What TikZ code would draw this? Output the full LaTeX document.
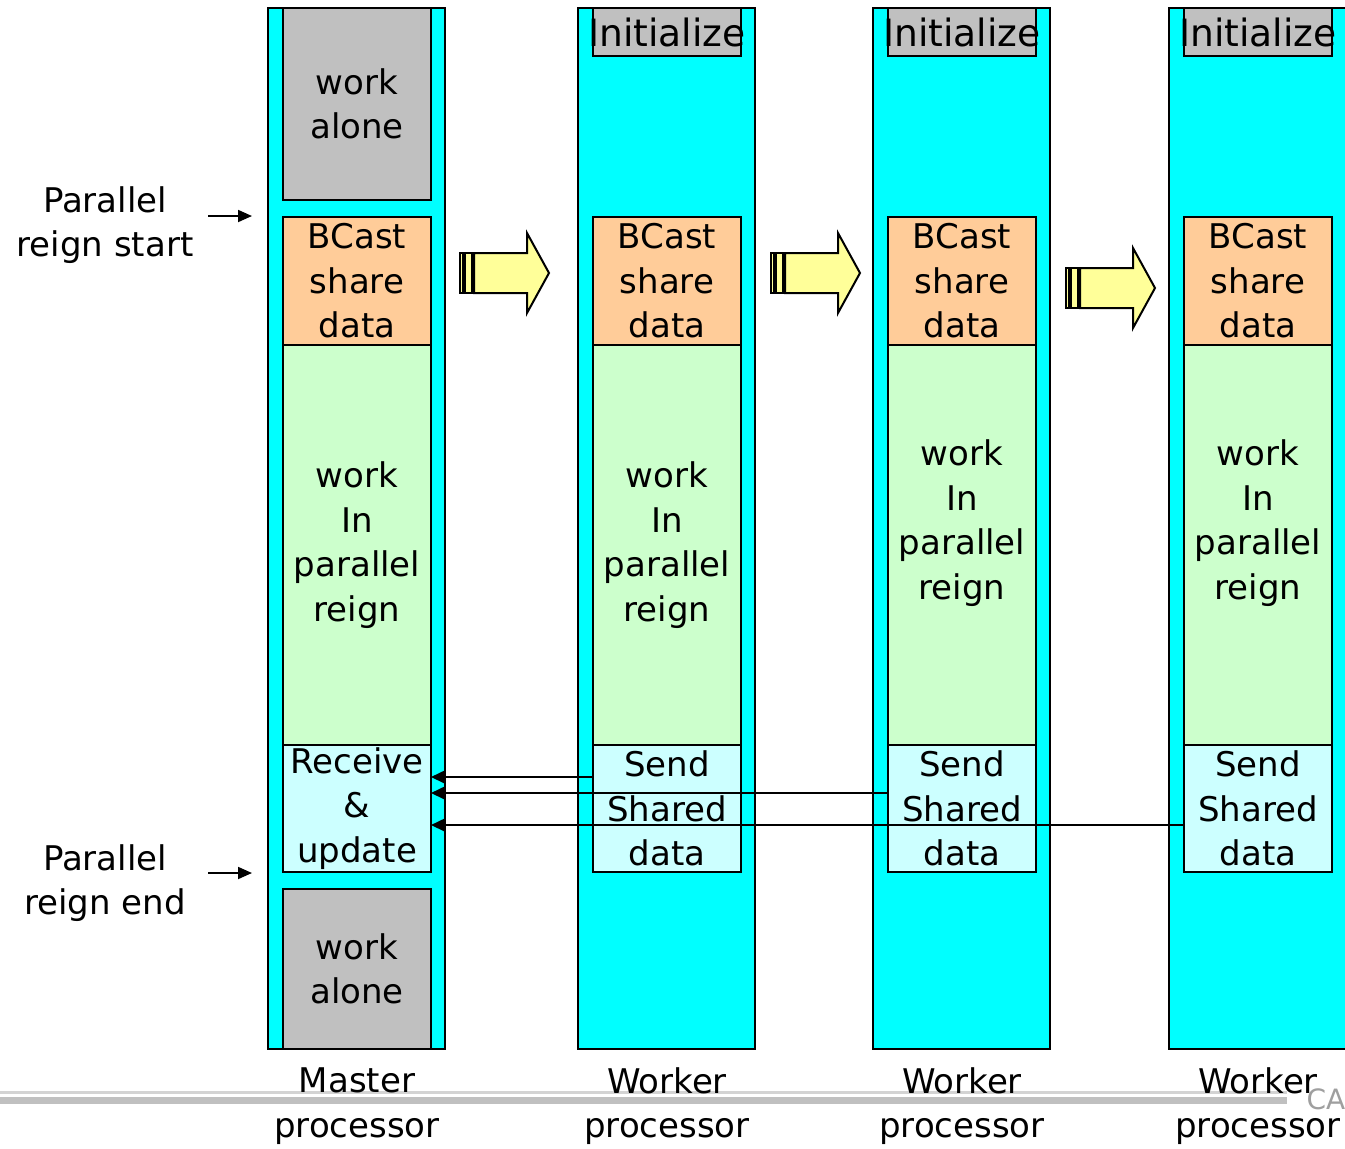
\documentclass[tikz,border=0pt]{standalone}
\usepackage{fontspec}
\setmainfont{DejaVu Sans}
\usetikzlibrary{arrows.meta,calc}

\definecolor{colcyan}{RGB}{0,255,255}
\definecolor{boxgray}{RGB}{192,192,192}
\definecolor{peach}{RGB}{255,204,153}
\definecolor{mint}{RGB}{204,255,204}
\definecolor{palecyan}{RGB}{204,255,255}
\definecolor{paleyellow}{RGB}{255,255,153}
\definecolor{rulegray}{RGB}{200,200,200}

\tikzset{
  txt/.style={font=\fontsize{17}{22.25}\selectfont, align=center, inner sep=0pt},
  column/.style={draw, line width=1pt, fill=colcyan, inner sep=0pt, outer sep=0pt,
    anchor=north west, minimum width=88.5pt},
  stage/.style={draw, line width=1pt, inner sep=0pt, outer sep=0pt, anchor=north west,
    minimum width=74pt, txt},
  inittxt/.style={font=\fontsize{18.8}{22.25}\selectfont, inner sep=0pt},
  msg/.style={line width=0.9pt, -{Triangle[length=6.5pt,width=6pt]}},
  marker/.style={line width=0.9pt, -{Triangle[length=7pt,width=6pt]}},
  bigarrow/.pic={
    \draw[fill=paleyellow, line width=0.8pt] (0,-20) rectangle (3,20);
    \draw[fill=paleyellow, line width=0.8pt] (5,-20) rectangle (12,20);
    \draw[fill=paleyellow, line width=1pt, line join=miter]
      (14,-20) -- (67,-20) -- (67,-40) -- (89,0) -- (67,40) -- (67,20) -- (14,20) -- cycle;
  }
}

\begin{document}
\begin{tikzpicture}[x=0.5pt, y=-0.5pt]
\useasboundingbox (0,0) rectangle (1345,1148);

% separator rules at the foot
\fill[rulegray!80] (0,1090.5) rectangle (1287,1093.5);
\fill[boxgray] (0,1097) rectangle (1287,1104);
\node[font=\fontsize{14}{14}\selectfont, text=gray!75, inner sep=0pt] (ca) at (1326,1099) {CA};

% processor columns
\node[column, minimum height=520.5pt] (c1) at (268,8) {};
\node[column, minimum height=520.5pt] (c2) at (578,8) {};
\node[column, minimum height=520.5pt] (c3) at (873,8) {};
\node[column, minimum height=520.5pt] (c4) at (1169,8) {};

% master processor stages
\node[stage, fill=boxgray, minimum height=96pt] (w1) at (283,8) {work\\alone};
\node[stage, fill=peach, minimum height=64pt] (b1) at (283,217) {BCast\\share\\data};
\node[stage, fill=mint, minimum height=200pt] (g1) at (283,345) {work\\In\\parallel\\reign};
\node[stage, fill=palecyan, minimum height=63.5pt] (r1) at (283,745) {Receive\\\&\\update};
\node[stage, fill=boxgray, minimum height=80pt] (w1b) at (283,889) {work\\alone};

% worker processor stages (the Initialize label runs past its box)
\node[stage, fill=boxgray, minimum height=24pt] (i2) at (593,8) {};
\node[inittxt] (i2t) at (i2.center) {Initialize};
\node[stage, fill=peach, minimum height=64pt] (b2) at (593,217) {BCast\\share\\data};
\node[stage, fill=mint, minimum height=200pt] (g2) at (593,345) {work\\In\\parallel\\reign};
\node[stage, fill=palecyan, minimum height=63.5pt] (s2) at (593,745) {Send\\Shared\\data};

\node[stage, fill=boxgray, minimum height=24pt] (i3) at (888,8) {};
\node[inittxt] (i3t) at (i3.center) {Initialize};
\node[stage, fill=peach, minimum height=64pt] (b3) at (888,217) {BCast\\share\\data};
\node[stage, fill=mint, minimum height=200pt] (g3) at (888,345) {};
\node[txt] (g3t) at ($(g3.center)+(0,-22)$) {work\\In\\parallel\\reign};
\node[stage, fill=palecyan, minimum height=63.5pt] (s3) at (888,745) {Send\\Shared\\data};

\node[stage, fill=boxgray, minimum height=24pt] (i4) at (1184,8) {};
\node[inittxt] (i4t) at (i4.center) {Initialize};
\node[stage, fill=peach, minimum height=64pt] (b4) at (1184,217) {BCast\\share\\data};
\node[stage, fill=mint, minimum height=200pt] (g4) at (1184,345) {};
\node[txt] (g4t) at ($(g4.center)+(0,-22)$) {work\\In\\parallel\\reign};
\node[stage, fill=palecyan, minimum height=63.5pt] (s4) at (1184,745) {Send\\Shared\\data};

% broadcast arrows
\pic (ba1) at (460,273) {bigarrow};
\pic (ba2) at (771,273) {bigarrow};
\pic (ba3) at (1066,288) {bigarrow};

% reign markers
\node[txt] (lstart) at (105,225) {Parallel\\reign start};
\node[txt] (lend) at (105,883) {Parallel\\reign end};
\coordinate (ms0) at (208,216);
\coordinate (ms1) at (252,216);
\coordinate (me0) at (208,873);
\coordinate (me1) at (252,873);
\draw[marker] (ms0) -- (ms1);
\draw[marker] (me0) -- (me1);

% processor captions
\node[txt] (cap1) at (357,1106) {Master\\processor};
\node[txt] (cap2) at (667,1106) {Worker\\processor};
\node[txt] (cap3) at (962,1106) {Worker\\processor};
\node[txt] (cap4) at (1258,1106) {Worker\\processor};

% shared data sent back to the master
\draw[msg] ($(s2.north west)!0.252!(s2.south west)$) -- ($(r1.north east)!0.252!(r1.south east)$);
\draw[msg] ($(s3.north west)!0.378!(s3.south west)$) -- ($(r1.north east)!0.378!(r1.south east)$);
\draw[msg] ($(s4.north west)!0.630!(s4.south west)$) -- ($(r1.north east)!0.630!(r1.south east)$);
\end{tikzpicture}
\end{document}
